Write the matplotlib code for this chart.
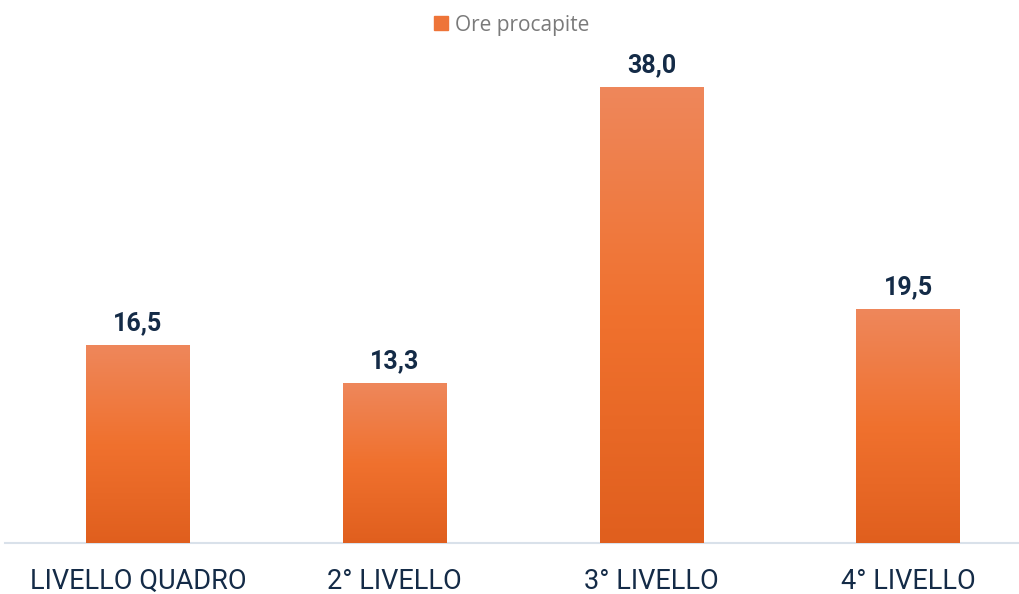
import numpy as np
import matplotlib.pyplot as plt
from matplotlib.colors import LinearSegmentedColormap
from matplotlib.patches import Patch

categories = ["LIVELLO QUADRO", "2° LIVELLO", "3° LIVELLO", "4° LIVELLO"]
ore = [16.5, 13.3, 38.0, 19.5]
labels = ["16,5", "13,3", "38,0", "19,5"]

navy = "#142b47"
grad = LinearSegmentedColormap.from_list("bar", ["#e05f1e", "#f0712e", "#ee875b"])

fig = plt.figure(figsize=(10.19, 5.94), dpi=100)
ax = fig.add_axes([5 / 1019, 51 / 594, 1014 / 1019, 492 / 594])

x = np.arange(len(categories))
width = 0.405
bars = ax.bar(x, ore, width=width, color="#f0712e", zorder=2)

# gradient fill, one per bar
g = np.linspace(0, 1, 256).reshape(-1, 1)
for b in bars:
    x0, y0 = b.get_x(), b.get_y()
    w, h = b.get_width(), b.get_height()
    im = ax.imshow(g, cmap=grad, origin="lower", aspect="auto",
                   extent=[x0, x0 + w, y0, y0 + h], zorder=3)
    im.set_clip_path(b)

for xi, v, lab in zip(x, ore, labels):
    ax.annotate(lab, (xi, v), xytext=(0, 7), textcoords="offset points",
                ha="center", va="bottom", fontsize=18, fontweight="bold",
                color=navy, family=["Roboto", "DejaVu Sans"])

ax.set_xlim(-0.518, 3.431)
ax.set_ylim(0, 41.0)
ax.set_xticks(x)
ax.set_xticklabels(categories, fontsize=19.5, color=navy,
                   family=["Roboto", "DejaVu Sans"])
ax.tick_params(axis="x", length=0, pad=18)
ax.set_yticks([])
for s in ["top", "right", "left"]:
    ax.spines[s].set_visible(False)
ax.spines["bottom"].set_color("#d9e1ea")
ax.spines["bottom"].set_linewidth(1.5)

leg = fig.legend(handles=[Patch(color="#ee7438", label="Ore procapite")],
                 loc="center", bbox_to_anchor=(512 / 1019, 1 - 25 / 594),
                 frameon=False, handlelength=0.65, handleheight=0.65,
                 handletextpad=0.35, prop={"family": "Open Sans", "size": 15})
for t in leg.get_texts():
    t.set_color("#7a7a7a")

fig.savefig("out.png", dpi=100)
